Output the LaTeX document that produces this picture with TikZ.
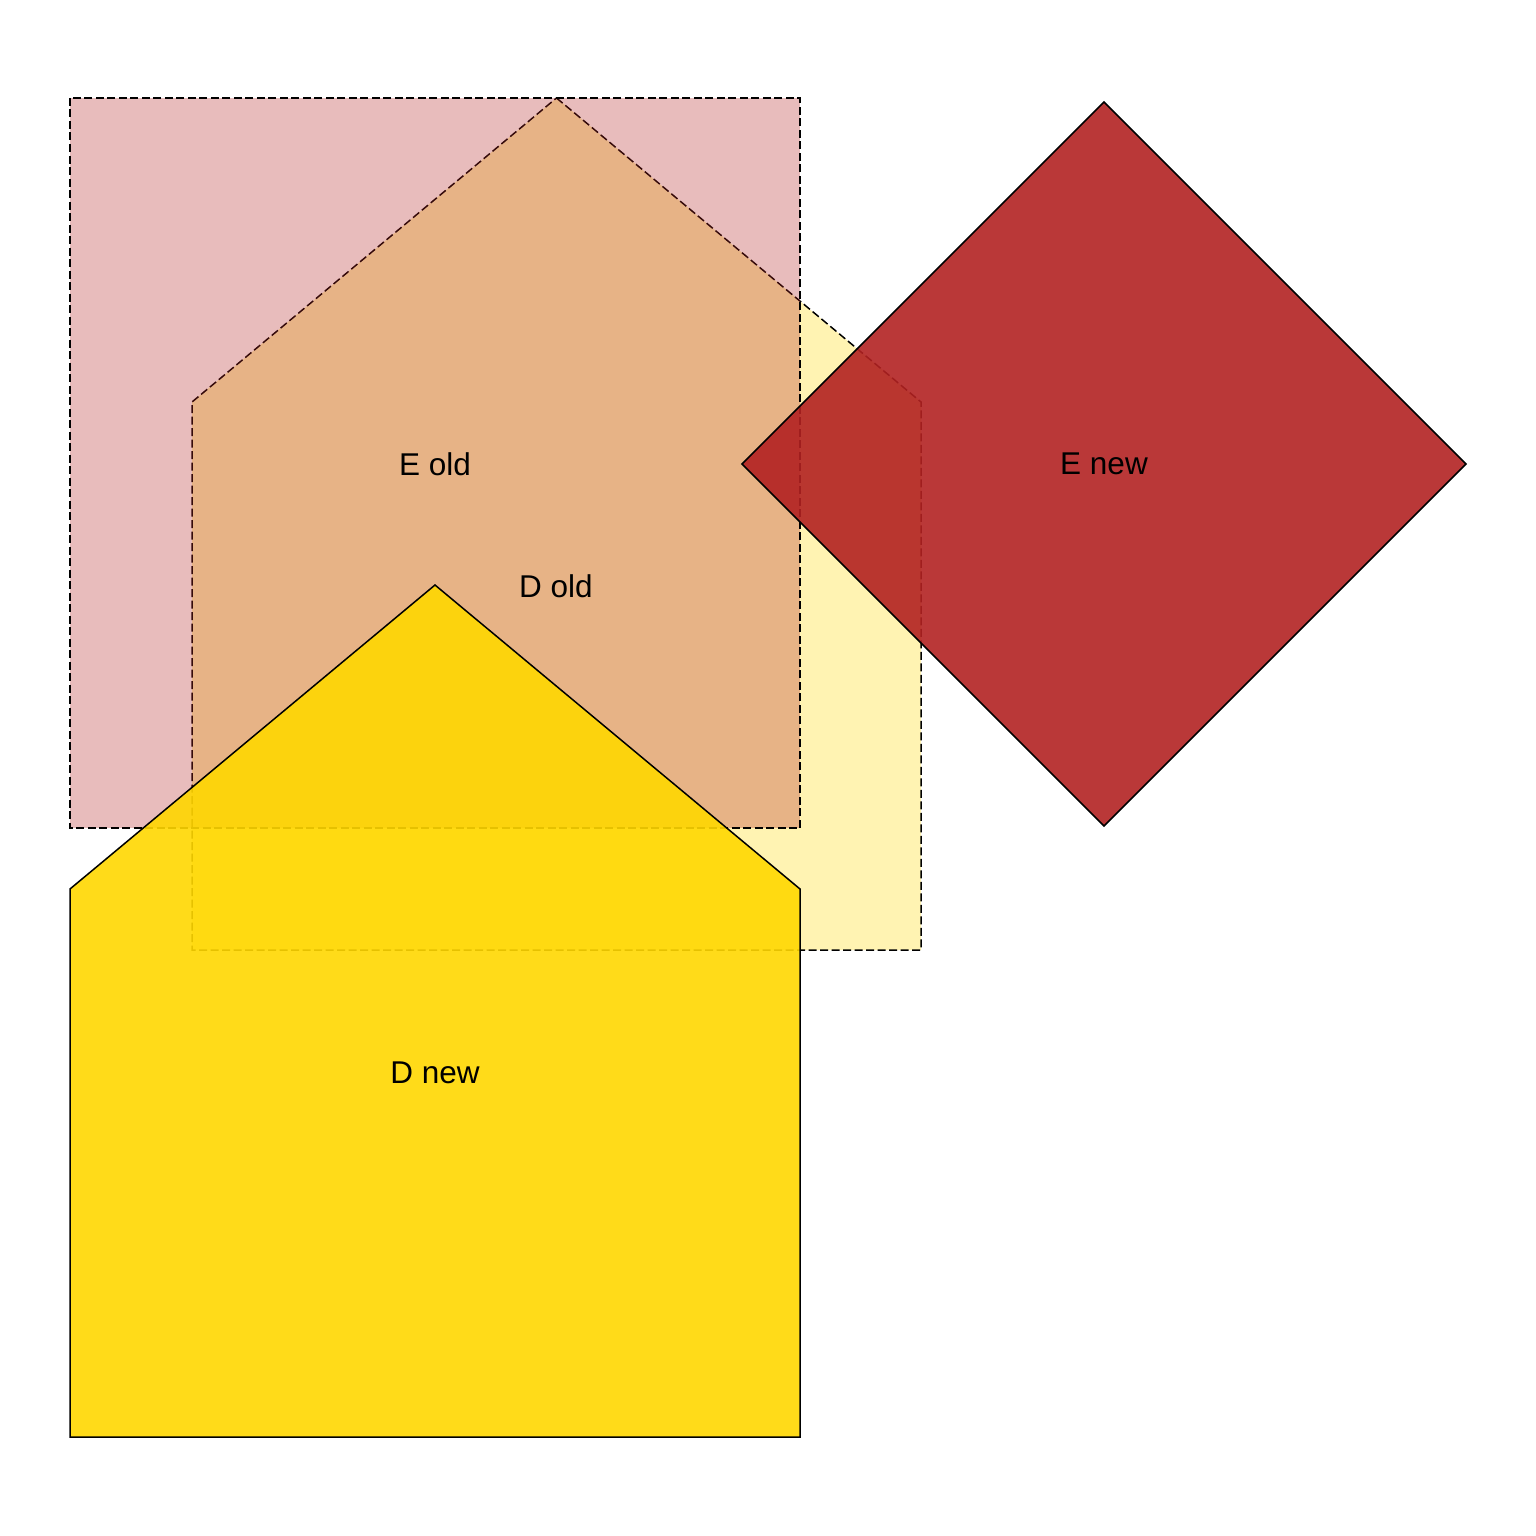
\documentclass[tikz,border=0pt]{standalone}
\usepackage{fontspec}
\setmainfont{Liberation Sans}
\definecolor{firebrickc}{RGB}{178,34,34}
\definecolor{goldc}{RGB}{255,215,0}
\tikzset{
  oldshape/.style={draw=black, line width=1.5pt, dash pattern=on 8pt off 3.5pt, fill opacity=0.3},
  newshape/.style={draw=black, line width=1.5pt, fill opacity=0.9},
  lbl/.style={font=\fontsize{31.5}{38}\selectfont, inner sep=0pt, text=black, text opacity=1}
}
\begin{document}
\begin{tikzpicture}[x=1pt,y=-1pt]
\useasboundingbox (0,0) rectangle (1536,1536);
% D old (house, dashed)
\path[oldshape, fill=goldc] (556.5,98) -- (921,402) -- (921,950) -- (192,950) -- (192,402) -- cycle;
% E old (square, dashed)
\path[oldshape, fill=firebrickc] (70,98) rectangle (800,828);
% E new (diamond)
\path[newshape, fill=firebrickc] (1104,102) -- (1466,464) -- (1104,826) -- (742,464) -- cycle;
% D new (house)
\path[newshape, fill=goldc] (435,585) -- (800,889) -- (800,1437) -- (70,1437) -- (70,889) -- cycle;
% labels
\node[lbl] (eold) at (435,464) {E old};
\node[lbl] (dold) at (556,586) {D old};
\node[lbl] (enew) at (1104,464) {E new};
\node[lbl] (dnew) at (435,1073) {D new};
\end{tikzpicture}
\end{document}
